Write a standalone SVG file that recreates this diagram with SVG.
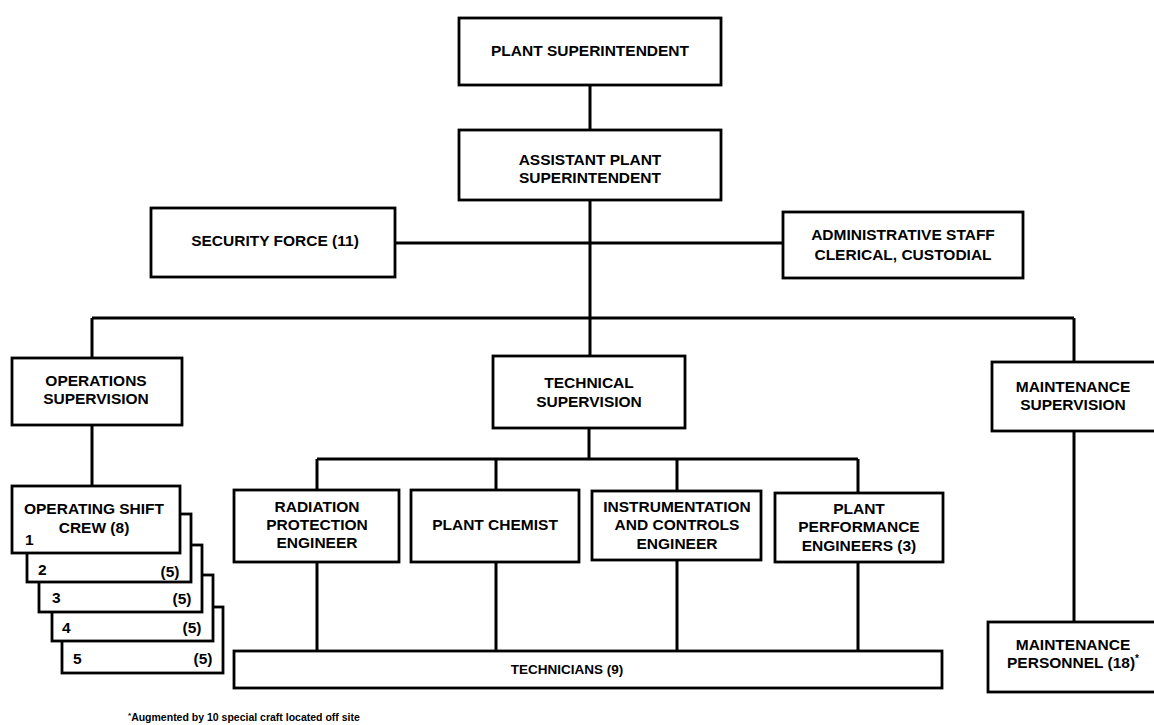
<svg xmlns="http://www.w3.org/2000/svg" width="1154" height="725" viewBox="0 0 1154 725">
<style>
.box{fill:#fff;stroke:#000;stroke-width:2.8}
.ln{fill:none;stroke:#000;stroke-width:3}
text{font-family:"Liberation Sans",Arial,sans-serif;font-weight:bold;font-size:15.5px;fill:#000;text-anchor:middle}
.l{text-anchor:start}
.sm{font-size:13.5px}
.foot{font-size:10.5px;text-anchor:start}
</style>
<rect width="1154" height="725" fill="#fff"/>
<g id="connectors">
<path class="ln" d="M590 85V130M590 200V356M395 243H783M92 318H1074M92 318V358M1074 318V362M92 425V486M589 428V459M317 459H858M317 459V490M496 459V490M677 459V491M858 459V493M317 562V651M496 562V651M677 560V651M858 562V651M1074 431V622"/>
</g>
<g id="plant-superintendent">
<rect class="box" x="459" y="18" width="262" height="67"/>
<text x="590" y="56">PLANT SUPERINTENDENT</text>
</g>
<g id="assistant">
<rect class="box" x="459" y="130" width="262" height="70"/>
<text x="590" y="165">ASSISTANT PLANT</text>
<text x="590" y="183">SUPERINTENDENT</text>
</g>
<g id="security">
<rect class="box" x="151" y="208" width="244" height="69"/>
<text x="275" y="246">SECURITY FORCE (11)</text>
</g>
<g id="admin">
<rect class="box" x="783" y="212" width="240" height="66"/>
<text x="903" y="240">ADMINISTRATIVE STAFF</text>
<text x="903" y="260">CLERICAL, CUSTODIAL</text>
</g>
<g id="operations">
<rect class="box" x="12" y="358" width="170" height="67"/>
<text x="96" y="386">OPERATIONS</text>
<text x="96" y="404">SUPERVISION</text>
</g>
<g id="technical">
<rect class="box" x="493" y="356" width="192" height="72"/>
<text x="589" y="388">TECHNICAL</text>
<text x="589" y="407">SUPERVISION</text>
</g>
<g id="maintenance-supervision">
<rect class="box" x="992" y="362" width="170" height="69"/>
<text x="1073" y="392">MAINTENANCE</text>
<text x="1073" y="410">SUPERVISION</text>
</g>
<g id="crew-5">
<rect class="box" x="62" y="607" width="161" height="66"/>
<text class="l" x="73" y="664">5</text>
<text x="203" y="664">(5)</text>
</g>
<g id="crew-4">
<rect class="box" x="52" y="575" width="161" height="66"/>
<text class="l" x="62" y="633">4</text>
<text x="192" y="633">(5)</text>
</g>
<g id="crew-3">
<rect class="box" x="39" y="545" width="163" height="67"/>
<text class="l" x="52" y="603">3</text>
<text x="182" y="604">(5)</text>
</g>
<g id="crew-2">
<rect class="box" x="27" y="514" width="164" height="68"/>
<text class="l" x="38" y="575">2</text>
<text x="170" y="577">(5)</text>
</g>
<g id="crew-1">
<rect class="box" x="12" y="486" width="168" height="67"/>
<text x="94" y="514">OPERATING SHIFT</text>
<text x="94" y="533">CREW (8)</text>
<text class="l" x="25" y="545">1</text>
</g>
<g id="radiation">
<rect class="box" x="234" y="490" width="165" height="72"/>
<text x="317" y="512">RADIATION</text>
<text x="317" y="530">PROTECTION</text>
<text x="317" y="548">ENGINEER</text>
</g>
<g id="chemist">
<rect class="box" x="411" y="490" width="168" height="72"/>
<text x="495" y="530">PLANT CHEMIST</text>
</g>
<g id="instrumentation">
<rect class="box" x="592" y="491" width="169" height="69"/>
<text x="677" y="512">INSTRUMENTATION</text>
<text x="677" y="530">AND CONTROLS</text>
<text x="677" y="549">ENGINEER</text>
</g>
<g id="performance">
<rect class="box" x="775" y="493" width="168" height="69"/>
<text x="859" y="514">PLANT</text>
<text x="859" y="532">PERFORMANCE</text>
<text x="859" y="551">ENGINEERS (3)</text>
</g>
<g id="technicians">
<rect class="box" x="234" y="651" width="708" height="37"/>
<text class="sm" x="567" y="674">TECHNICIANS (9)</text>
</g>
<g id="maintenance-personnel">
<rect class="box" x="988" y="622" width="174" height="70"/>
<text x="1073" y="650">MAINTENANCE</text>
<text x="1073" y="668">PERSONNEL (18)<tspan font-size="10" dy="-6">*</tspan></text>
</g>
<text class="foot" x="128" y="721"><tspan font-size="8" dy="-3">*</tspan><tspan dy="3">Augmented by 10 special craft located off site</tspan></text>
</svg>
